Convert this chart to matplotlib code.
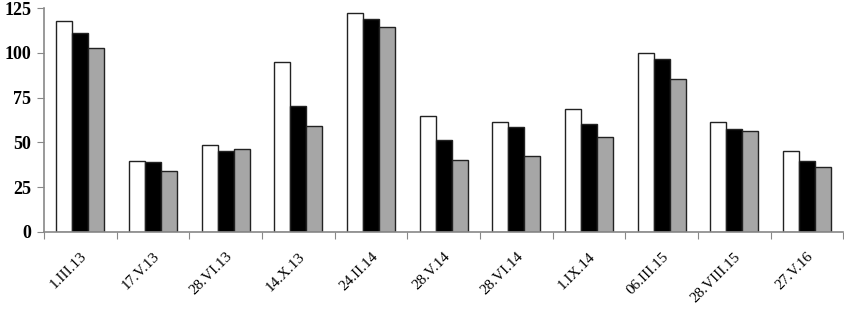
import numpy as np
import matplotlib.pyplot as plt

# Daten
kategorien = ['1.III.13', '17.V.13', '28.VI.13', '14.X.13', '24.II.14', '28.V.14',
              '28.VI.14', '1.IX.14', '06.III.15', '28.VIII.15', '27.V.16']
serie_weiss = [118, 39.6, 48.7, 95, 122.4, 64.5, 61.2, 68.8, 100, 61.2, 45.4]
serie_schwarz = [110.9, 39, 45.4, 70.3, 119.2, 51.5, 58.6, 60.1, 96.4, 57.3, 39.8]
serie_grau = [103, 34.2, 46.5, 59, 114.4, 40.2, 42.6, 53, 85.4, 56.2, 36.4]

plt.rcParams['font.family'] = ['Liberation Serif', 'DejaVu Serif']

fig = plt.figure(figsize=(8.45, 3.13), dpi=100)
ax = fig.add_axes([0.052, 0.259, 0.946, 0.715])

x = np.arange(len(kategorien))
b = 0.22
ax.bar(x - b, serie_weiss, b, color='white', edgecolor='#222222', linewidth=1)
ax.bar(x, serie_schwarz, b, color='black', edgecolor='#222222', linewidth=1)
ax.bar(x + b, serie_grau, b, color='#a6a6a6', edgecolor='#222222', linewidth=1)

ax.set_xlim(-0.5, len(kategorien) - 0.5)
ax.set_ylim(0, 125)
ax.set_yticks([0, 25, 50, 75, 100, 125])
ax.set_yticklabels(['0', '25', '50', '75', '100', '125'], fontweight='bold', fontsize=13)

# Ticks zwischen den Kategorien, Beschriftung in der Mitte
ax.set_xticks(np.arange(len(kategorien) + 1) - 0.5)
ax.set_xticklabels([])
ax.set_xticks(x, minor=True)
ax.set_xticklabels(kategorien, minor=True, rotation=45, ha='right',
                   rotation_mode='anchor', fontsize=11)
ax.tick_params(axis='x', which='minor', length=0, pad=13)
ax.tick_params(axis='x', which='major', length=5, color='#888888')
ax.tick_params(axis='y', length=5, color='#888888', pad=4)

for s in ['top', 'right']:
    ax.spines[s].set_visible(False)
for s in ['left', 'bottom']:
    ax.spines[s].set_color('#888888')
    ax.spines[s].set_linewidth(1.2)

fig.savefig('out.png')
